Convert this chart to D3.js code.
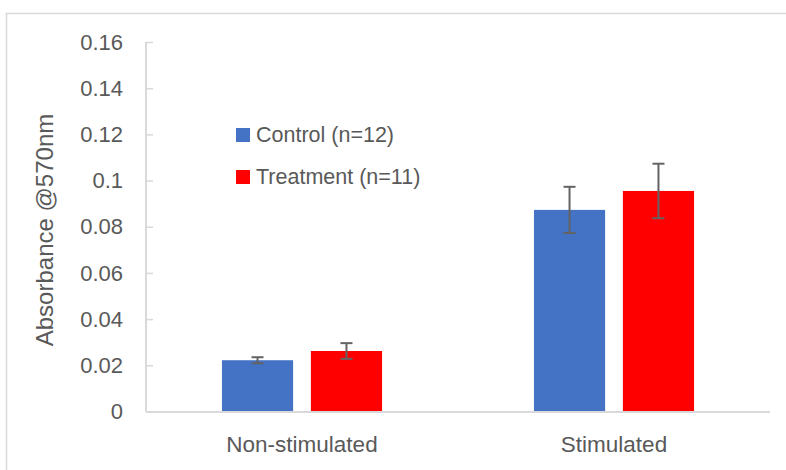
<!DOCTYPE html>
<html>
<head>
<meta charset="utf-8">
<script src="https://cdn.jsdelivr.net/npm/d3@7"></script>
<style>
html,body{margin:0;padding:0;background:#fff;}
svg{display:block;}
text{font-family:"Liberation Sans",Arial,sans-serif;fill:#595959;}
</style>
</head>
<body>
<svg id="chart" width="786" height="470"></svg>
<script>
const categories = ["Non-stimulated", "Stimulated"];
const seriesNames = ["Control (n=12)", "Treatment (n=11)"];
const controlValues = [0.0222, 0.0873];
const treatmentValues = [0.0262, 0.0955];
const controlErrors = [0.0013, 0.0100];
const treatmentErrors = [0.0034, 0.0118];
const yTicks = [0, 0.02, 0.04, 0.06, 0.08, 0.1, 0.12, 0.14, 0.16];
const colors = ["#4472C4", "#FF0000"];

const svg = d3.select("#chart");
const plot = {left: 146, right: 770, top: 42, bottom: 411.5};

// outer frame
svg.append("rect").attr("x", 6.5).attr("y", 13.5).attr("width", 800).attr("height", 480)
  .attr("fill", "none").attr("stroke", "#d9d9d9").attr("stroke-width", 1.5);

const y = d3.scaleLinear().domain([0, 0.16]).range([plot.bottom, plot.top]);
const x0 = d3.scaleBand().domain(categories).range([plot.left, plot.right]);
const x1 = d3.scaleBand().domain(seriesNames).range([0, x0.bandwidth()])
  .paddingInner(0.2).paddingOuter(0.854);

const seriesData = [
  {name: seriesNames[0], values: controlValues, errors: controlErrors, color: colors[0]},
  {name: seriesNames[1], values: treatmentValues, errors: treatmentErrors, color: colors[1]}
];

// bars
seriesData.forEach(s => {
  const g = svg.append("g");
  g.selectAll("rect").data(categories).join("rect")
    .attr("x", c => x0(c) + x1(s.name))
    .attr("width", x1.bandwidth())
    .attr("y", (c, i) => y(s.values[i]))
    .attr("height", (c, i) => y(0) - y(s.values[i]))
    .attr("fill", s.color);
});

// y axis
const yAxis = d3.axisRight(y).tickValues(yTicks).tickSize(7).tickFormat("");
const yg = svg.append("g").attr("transform", `translate(${plot.left},0)`).call(yAxis);
yg.select(".domain").remove();
yg.selectAll(".tick line").attr("stroke", "#d9d9d9").attr("stroke-width", 1.5);
svg.append("line").attr("x1", plot.left).attr("x2", plot.left)
  .attr("y1", plot.top).attr("y2", plot.bottom)
  .attr("stroke", "#d9d9d9").attr("stroke-width", 2);

// y tick labels
svg.append("g").selectAll("text").data(yTicks).join("text")
  .attr("x", 123).attr("y", d => y(d)).attr("dy", "0.35em")
  .attr("text-anchor", "end").attr("font-size", 22)
  .text(d => d3.format("")(+d.toFixed(2)));

// x axis line
svg.append("line").attr("x1", plot.left).attr("x2", plot.right)
  .attr("y1", plot.bottom + 0.5).attr("y2", plot.bottom + 0.5)
  .attr("stroke", "#d9d9d9").attr("stroke-width", 2);

// category labels
svg.append("g").selectAll("text").data(categories).join("text")
  .attr("x", c => x0(c) + x0.bandwidth() / 2).attr("y", 452)
  .attr("text-anchor", "middle").attr("font-size", 22.5)
  .text(c => c);

// error bars
seriesData.forEach(s => {
  const g = svg.append("g").attr("stroke", "#636363").attr("stroke-width", 2).attr("fill", "none");
  categories.forEach((c, i) => {
    const cx = x0(c) + x1(s.name) + x1.bandwidth() / 2;
    const hi = y(s.values[i] + s.errors[i]);
    const lo = y(s.values[i] - s.errors[i]);
    g.append("line").attr("x1", cx).attr("x2", cx).attr("y1", hi).attr("y2", lo);
    g.append("line").attr("x1", cx - 6).attr("x2", cx + 6).attr("y1", hi).attr("y2", hi);
    g.append("line").attr("x1", cx - 6).attr("x2", cx + 6).attr("y1", lo).attr("y2", lo);
  });
});

// y axis title
svg.append("text")
  .attr("transform", "translate(53,230) rotate(-90)")
  .attr("text-anchor", "middle").attr("font-size", 24)
  .text("Absorbance @570nm");

// legend
const legend = svg.append("g");
seriesData.forEach((s, i) => {
  const ly = 128 + i * 42;
  legend.append("rect").attr("x", 236).attr("y", ly).attr("width", 14).attr("height", 14).attr("fill", s.color);
  legend.append("text").attr("x", 256).attr("y", ly + 14).attr("font-size", 21.5).text(s.name);
});
</script>
</body>
</html>
